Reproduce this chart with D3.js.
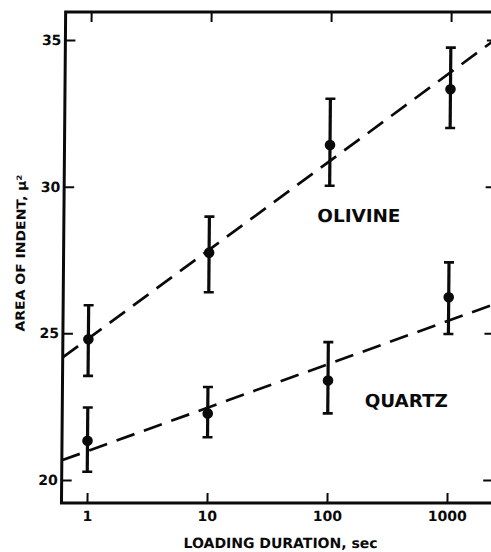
<!DOCTYPE html>
<html>
<head>
<meta charset="utf-8">
<script src="https://cdn.jsdelivr.net/npm/d3@7"></script>
<style>
  html, body { margin: 0; padding: 0; background: #fff; }
  svg { display: block; }
</style>
</head>
<body>
<svg id="chart" width="491" height="552"></svg>
<script>
// ---- data ----
const durations = [1, 10, 100, 1000];           // loading duration, sec
const olivineArea = [24.80, 27.75, 31.42, 33.32];
const olivineLow  = [23.55, 26.40, 30.03, 32.00];
const olivineHigh = [25.96, 28.98, 33.00, 34.74];
const quartzArea  = [21.34, 22.27, 23.39, 26.23];
const quartzLow   = [20.28, 21.46, 22.27, 24.98];
const quartzHigh  = [22.47, 23.17, 24.70, 27.42];
// dashed fit lines (end points, duration / area)
const olivineFitX = [0.613, 2418];
const olivineFitY = [24.18, 35.06];
const quartzFitX  = [0.613, 2418];
const quartzFitY  = [20.67, 26.00];
// axes
const xTicks = [1, 10, 100, 1000];
const xTickLabels = ["1", "10", "100", "1000"];
const yTicks = [20, 25, 30, 35];
const yTickLabels = ["20", "25", "30", "35"];
const xDomain = [0.613, 2418];
const yDomain = [19.216, 35.955];
const xTitle = "LOADING DURATION, sec";
const yTitle = "AREA OF INDENT, \u03BC\u00B2";
const seriesNames = ["OLIVINE", "QUARTZ"];

// ---- layout ----
const L = 61.5, R = 493, T = 12, B = 503;
const FONT = "'DejaVu Sans', 'Liberation Sans', sans-serif";
const INK = "#0a0a0a";
const k = 0.0085; // slight skew of the scanned figure

const svg = d3.select("#chart");
svg.append("rect").attr("width", 491).attr("height", 552).attr("fill", "#fff");
const g = svg.append("g")
  .attr("transform", `matrix(1,0,${-k},1,${k * 500},0)`);

const x = d3.scaleLog().domain(xDomain).range([L, R]);
const y = d3.scaleLinear().domain(yDomain).range([B, T]);

// clip for lines
svg.append("defs").append("clipPath").attr("id", "plotclip")
  .append("rect").attr("x", L).attr("y", T).attr("width", R - L).attr("height", B - T);

// axes
function styleAxis(sel) {
  sel.select(".domain").remove();
  sel.selectAll(".tick line").attr("stroke", INK).attr("stroke-width", 2);
  sel.selectAll(".tick text")
    .attr("fill", INK)
    .attr("font-family", FONT)
    .attr("font-weight", "bold")
    .attr("font-size", 14);
  sel.attr("font-family", null).attr("font-size", null);
}

g.append("g").attr("transform", `translate(0,${B})`)
  .call(d3.axisBottom(x).tickValues(xTicks)
    .tickFormat((d, i) => xTickLabels[i]).tickSize(-10).tickPadding(8))
  .call(styleAxis);

g.append("g").attr("transform", `translate(0,${T})`)
  .call(d3.axisTop(x).tickValues(xTicks).tickFormat("").tickSize(-10))
  .call(styleAxis);

g.append("g").attr("transform", `translate(${L},0)`)
  .call(d3.axisLeft(y).tickValues(yTicks)
    .tickFormat((d, i) => yTickLabels[i]).tickSize(-10).tickPadding(4))
  .call(styleAxis);

g.append("g").attr("transform", `translate(${R},0)`)
  .call(d3.axisRight(y).tickValues(yTicks).tickFormat("").tickSize(-10))
  .call(styleAxis);

// frame
g.append("rect")
  .attr("x", L).attr("y", T).attr("width", R - L).attr("height", B - T)
  .attr("fill", "none").attr("stroke", INK).attr("stroke-width", 3);

// dashed fit lines
const line = d3.line().x(d => x(d[0])).y(d => y(d[1]));
const fits = [
  d3.zip(olivineFitX, olivineFitY),
  d3.zip(quartzFitX, quartzFitY)
];
g.append("g").attr("clip-path", "url(#plotclip)")
  .selectAll("path.fit").data(fits).join("path")
  .attr("class", "fit")
  .attr("d", line)
  .attr("fill", "none")
  .attr("stroke", INK)
  .attr("stroke-width", 2.7)
  .attr("stroke-dasharray", "19,10");

// points with error bars
const series = [
  durations.map((d, i) => ({ x: d, v: olivineArea[i], lo: olivineLow[i], hi: olivineHigh[i] })),
  durations.map((d, i) => ({ x: d, v: quartzArea[i], lo: quartzLow[i], hi: quartzHigh[i] }))
];
const pts = g.append("g").selectAll("g.s").data(series).join("g").attr("class", "s")
  .selectAll("g.p").data(d => d).join("g").attr("class", "p");

pts.append("line")
  .attr("x1", d => x(d.x)).attr("x2", d => x(d.x))
  .attr("y1", d => y(d.lo)).attr("y2", d => y(d.hi))
  .attr("stroke", INK).attr("stroke-width", 3.2);
pts.append("line")
  .attr("x1", d => x(d.x) - 5).attr("x2", d => x(d.x) + 5)
  .attr("y1", d => y(d.hi)).attr("y2", d => y(d.hi))
  .attr("stroke", INK).attr("stroke-width", 2.6);
pts.append("line")
  .attr("x1", d => x(d.x) - 5).attr("x2", d => x(d.x) + 5)
  .attr("y1", d => y(d.lo)).attr("y2", d => y(d.lo))
  .attr("stroke", INK).attr("stroke-width", 2.6);
pts.append("circle")
  .attr("cx", d => x(d.x)).attr("cy", d => y(d.v)).attr("r", 5.3)
  .attr("fill", INK);

// series labels
g.append("text")
  .attr("x", 315).attr("y", 222)
  .attr("textLength", 83).attr("lengthAdjust", "spacingAndGlyphs")
  .attr("font-family", FONT).attr("font-weight", "bold").attr("font-size", 18)
  .attr("fill", INK).text(seriesNames[0]);
g.append("text")
  .attr("x", 364).attr("y", 407)
  .attr("textLength", 83).attr("lengthAdjust", "spacingAndGlyphs")
  .attr("font-family", FONT).attr("font-weight", "bold").attr("font-size", 18)
  .attr("fill", INK).text(seriesNames[1]);

// axis titles
g.append("text")
  .attr("x", 281).attr("y", 548)
  .attr("text-anchor", "middle")
  .attr("textLength", 194).attr("lengthAdjust", "spacingAndGlyphs")
  .attr("font-family", FONT).attr("font-weight", "bold").attr("font-size", 14)
  .attr("fill", INK).text(xTitle);

g.append("text")
  .attr("transform", "translate(23,253) rotate(-90)")
  .attr("text-anchor", "middle")
  .attr("textLength", 157).attr("lengthAdjust", "spacingAndGlyphs")
  .attr("font-family", FONT).attr("font-weight", "bold").attr("font-size", 12.5)
  .attr("fill", INK).text(yTitle);
</script>
</body>
</html>
